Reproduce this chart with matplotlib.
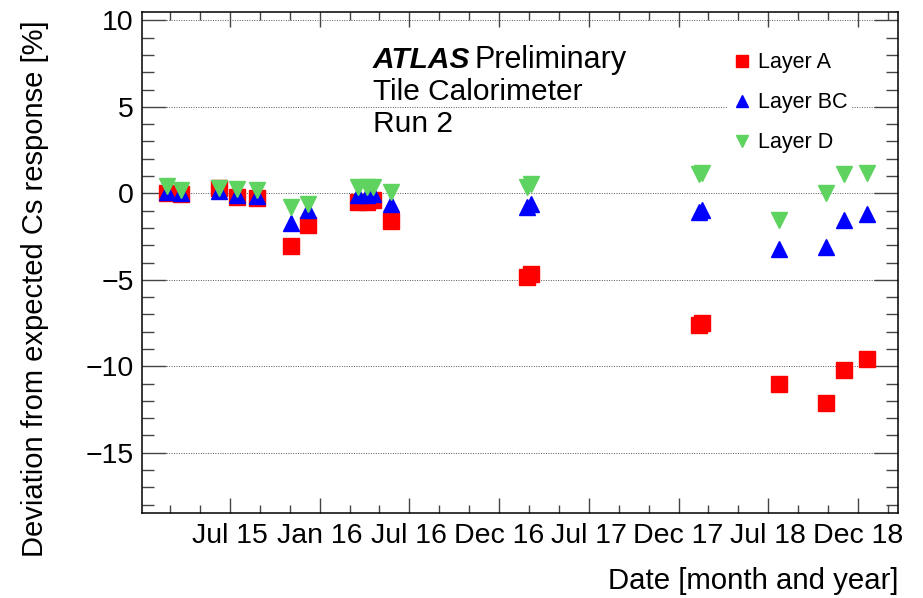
import matplotlib
matplotlib.use("Agg")
import matplotlib.pyplot as plt
from matplotlib.ticker import MultipleLocator

plt.rcParams['font.family'] = ['Liberation Sans', 'DejaVu Sans']

# Fechas de las medidas (anio decimal) y desviaciones por capa [%]
fechas = [2015.147, 2015.225, 2015.44, 2015.537, 2015.652, 2015.84, 2015.936,
          2016.213, 2016.262, 2016.299, 2016.397, 2017.157, 2017.176,
          2018.116, 2018.131, 2018.562, 2018.82, 2018.92, 2019.05]
capa_a = [0.0, -0.05, 0.29, -0.2, -0.29, -3.05, -1.84, -0.52, -0.52, -0.39,
          -1.6, -4.84, -4.67, -7.6, -7.48, -11.04, -12.1, -10.23, -9.6]
capa_bc = [0.09, 0.0, 0.15, -0.1, -0.15, -1.74, -0.97, -0.1, -0.08, -0.05,
           -0.64, -0.78, -0.62, -1.06, -0.95, -3.24, -3.09, -1.55, -1.2]
capa_d = [0.4, 0.19, 0.3, 0.23, 0.17, -0.77, -0.62, 0.38, 0.36, 0.36,
          0.1, 0.38, 0.54, 1.14, 1.2, -1.55, 0.04, 1.12, 1.19]

etiquetas_capas = ['Layer A', 'Layer BC', 'Layer D']
tick_pos = [2015.5, 2016.0, 2016.5, 2017.0, 2017.5, 2018.0, 2018.5, 2019.0]
tick_labels = ['Jul 15', 'Jan 16', 'Jul 16', 'Dec 16', 'Jul 17', 'Dec 17', 'Jul 18', 'Dec 18']

fig = plt.figure(figsize=(9.23, 5.98), dpi=100)
ax = fig.add_axes([0.1538, 0.1416, 0.8192, 0.8388])

ax.plot(fechas, capa_a, 's', color='#ff0000', markersize=11, linestyle='none',
        label=etiquetas_capas[0])
ax.plot(fechas, capa_bc, '^', color='#0000ff', markersize=11, linestyle='none',
        label=etiquetas_capas[1])
ax.plot(fechas, capa_d, 'v', color='#5fd35f', markersize=11, linestyle='none',
        label=etiquetas_capas[2])

ax.set_xlim(2015.01, 2019.223)
ax.set_ylim(-18.5, 10.5)

ax.set_xticks(tick_pos)
ax.set_xticklabels(tick_labels)
ax.xaxis.set_minor_locator(MultipleLocator(1 / 6))
ax.yaxis.set_minor_locator(MultipleLocator(1))
ax.set_yticks([-15, -10, -5, 0, 5, 10])
ax.set_yticklabels(['\u221215', '\u221210', '\u22125', '0', '5', '10'])

ax.tick_params(axis='both', which='both', direction='in', top=True, right=True,
               labelsize=20.5, width=1.0, color='#444444')
ax.tick_params(axis='y', which='major', length=17, pad=6)
ax.tick_params(axis='y', which='minor', length=8.5)
ax.tick_params(axis='x', which='major', length=11, pad=7)
ax.tick_params(axis='x', which='minor', length=5.5)
for lado in ax.spines.values():
    lado.set_linewidth(1.1)

# lineas punteadas horizontales
for yv in [-15, -10, -5, 0, 5, 10]:
    ax.axhline(yv, color='#555555', linestyle=(0, (1, 1.5)), linewidth=0.7, zorder=0)

# textos ATLAS
fig.text(373 / 923, 1 - 68.3 / 598, 'ATLAS', fontsize=21.5, fontweight='bold',
         fontstyle='italic', va='baseline')
fig.text(474 / 923, 1 - 68.3 / 598, 'Preliminary', fontsize=22, va='baseline')
fig.text(373 / 923, 1 - 100 / 598, 'Tile Calorimeter', fontsize=21.5, va='baseline')
fig.text(373 / 923, 1 - 131.7 / 598, 'Run 2', fontsize=21.5, va='baseline')

leg = ax.legend(loc='upper left', bbox_to_anchor=(727 / 923, 1 - 48 / 598),
                bbox_transform=fig.transFigure, frameon=True, fontsize=15.5,
                labelspacing=0.88, handlelength=1.0, handletextpad=0.22,
                markerscale=0.8, borderpad=0.2, borderaxespad=0, fancybox=False)
leg.get_frame().set_facecolor('white')
leg.get_frame().set_edgecolor('none')
leg.get_frame().set_alpha(1.0)

fig.text(898 / 923, 1 - 589 / 598, 'Date [month and year]', fontsize=21.2,
         ha='right', va='baseline')
fig.text(35 / 923, 1 - 20 / 598, 'Deviation from expected Cs response [%]',
         fontsize=21, rotation=90, ha='center', va='top')

fig.savefig('out.png', dpi=100)
